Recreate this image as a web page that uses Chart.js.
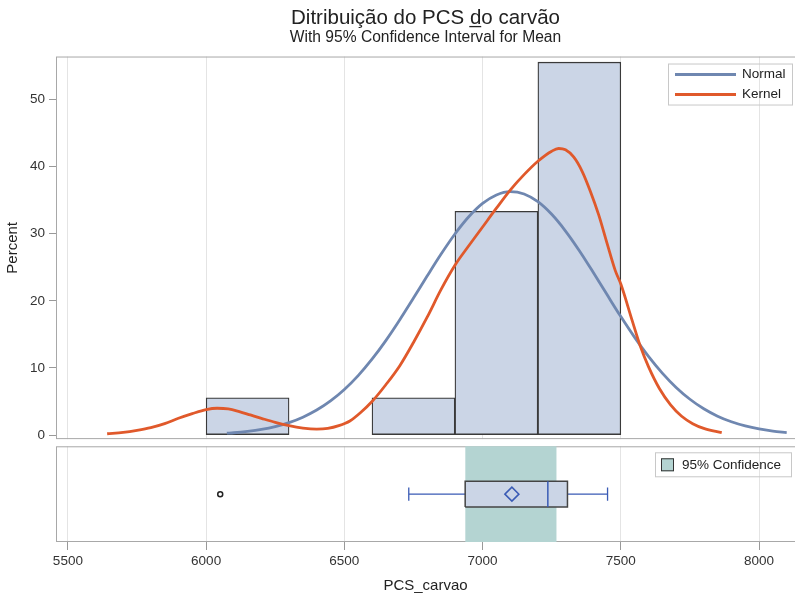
<!DOCTYPE html>
<html>
<head>
<meta charset="utf-8">
<script src="https://cdn.jsdelivr.net/npm/chart.js@4.4.1/dist/chart.umd.min.js"></script>
<style>
html, body { margin: 0; padding: 0; background: #fff; }
</style>
</head>
<body>
<canvas id="chart" width="795" height="596"></canvas>
<script>
// Histogram bins (percent of 18 observations)
const binStart = [6000, 6300, 6600, 6900, 7200];
const binWidth = 300;
const binPercent = [5.56, 0, 5.56, 33.33, 55.56];

// Fitted normal curve
const normalX = [6075, 6100, 6150, 6200, 6250, 6300, 6350, 6400, 6450, 6500, 6550, 6600, 6650, 6700,
    6750, 6800, 6850, 6900, 6950, 7000, 7050, 7100, 7150, 7200, 7250, 7300, 7350, 7400, 7450, 7500,
    7550, 7600, 7650, 7700, 7750, 7800, 7850, 7900, 7950, 8000, 8050, 8100];
const normalY = [0.28, 0.35, 0.56, 0.85, 1.27, 1.86, 2.67, 3.73, 5.09, 6.79, 8.86, 11.30, 14.08, 17.15,
    20.41, 23.73, 26.97, 29.96, 32.52, 34.51, 35.78, 36.27, 35.92, 34.77, 32.89, 30.40, 27.47, 24.25, 20.93, 17.65,
    14.55, 11.72, 9.23, 7.10, 5.34, 3.92, 2.82, 1.98, 1.36, 0.91, 0.60, 0.38];

// Kernel density curve
const kernelX = [5642, 5700, 5750, 5800, 5850, 5900, 5950, 6000, 6040, 6080, 6120, 6160, 6200, 6250,
    6300, 6350, 6400, 6440, 6480, 6520, 6560, 6600, 6650, 6700, 6750, 6800, 6850, 6900, 6950, 7000,
    7050, 7100, 7150, 7200, 7250, 7275, 7300, 7330, 7360, 7390, 7420, 7450, 7480, 7500, 7540, 7570,
    7600, 7640, 7680, 7720, 7760, 7800, 7865];
const kernelY = [0.2, 0.4, 0.7, 1.1, 1.7, 2.5, 3.2, 3.8, 4.0, 3.9, 3.5, 3.0, 2.5, 1.9,
    1.4, 1.05, 0.9, 1.0, 1.4, 2.1, 3.4, 5.0, 7.5, 10.3, 13.8, 17.6, 21.7, 25.3, 28.2, 31.0,
    33.8, 36.5, 38.8, 40.8, 42.3, 42.7, 42.5, 41.4, 39.3, 36.3, 32.8, 28.6, 24.5, 22.5, 17.2, 13.3,
    10.2, 6.9, 4.5, 2.8, 1.7, 1.0, 0.35];

// Box plot statistics
const whiskers = [6733, 7452];
const quartiles = [6937, 7236, 7307]; // Q1, median, Q3
const meanValue = [7106];
const outliers = [6051];
const meanCI = [6937, 7268];

const xTicks = [5500, 6000, 6500, 7000, 7500, 8000];

// Layout of the box panel (in yBox units)
const BOX_MID = 0.5;
const BOX_HALF = 0.135;
const CAP_HALF = 0.07;

const FONT = "'Liberation Sans', Arial, sans-serif";
Chart.defaults.font.family = FONT;
Chart.defaults.color = '#333';

const BLUE = '#3a5bb5';
const BAR_FILL = '#cbd5e6';
const BAND = '#b4d4d2';

const panelFrames = {
    id: 'panelFrames',
    beforeDatasetsDraw(chart) {
        const { ctx, chartArea } = chart;
        const yHist = chart.scales.y;
        const boxTop = chart.scales.yBox.getPixelForValue(1);
        const w = chartArea.right - chartArea.left;
        ctx.save();
        ctx.fillStyle = '#fff';
        ctx.fillRect(chartArea.left, yHist.bottom, w, boxTop - yHist.bottom);
        ctx.strokeStyle = '#a8a8a8';
        ctx.lineWidth = 1;
        ctx.strokeRect(chartArea.left + 0.5, yHist.top + 0.5, w, yHist.bottom - yHist.top - 1);
        ctx.strokeRect(chartArea.left + 0.5, boxTop + 0.5, w, chartArea.bottom - boxTop - 1);
        ctx.restore();
    }
};

const panelLegends = {
    id: 'panelLegends',
    afterDatasetsDraw(chart) {
        const { ctx, chartArea } = chart;
        const ds = chart.data.datasets;
        const top = chart.scales.y.top;
        const boxTop = chart.scales.yBox.getPixelForValue(1);
        ctx.save();
        ctx.font = '13.5px ' + FONT;
        ctx.textBaseline = 'middle';
        ctx.lineWidth = 1;

        // curves legend: Normal first, then Kernel
        let lx = chartArea.right - 127, ly = top + 7;
        ctx.strokeStyle = '#c8c8c8';
        ctx.strokeRect(lx + 0.5, ly + 0.5, 124, 41);
        ds.filter(d => d.legend === 'curve').reverse().forEach((d, i) => {
            const yy = ly + 11 + i * 20;
            ctx.strokeStyle = d.borderColor;
            ctx.lineWidth = 2.8;
            ctx.beginPath();
            ctx.moveTo(lx + 7, yy);
            ctx.lineTo(lx + 68, yy);
            ctx.stroke();
            ctx.fillStyle = '#222';
            ctx.fillText(d.label, lx + 74, yy);
        });

        // confidence legend
        lx = chartArea.right - 140;
        ly = boxTop + 6;
        ctx.lineWidth = 1;
        ctx.strokeStyle = '#c8c8c8';
        ctx.strokeRect(lx + 0.5, ly + 0.5, 136, 24);
        const band = ds.find(d => d.legend === 'band');
        ctx.fillStyle = band.backgroundColor;
        ctx.fillRect(lx + 6, ly + 6, 13, 13);
        ctx.strokeStyle = '#333';
        ctx.strokeRect(lx + 6.5, ly + 6.5, 12, 12);
        ctx.fillStyle = '#222';
        ctx.fillText(band.label, lx + 27, ly + 12.5);
        ctx.restore();
    }
};

const ctx = document.getElementById('chart').getContext('2d');
new Chart(ctx, {
    type: 'line',
    data: {
        datasets: [
            {
                label: 'Kernel', legend: 'curve',
                data: kernelX.map((x, i) => ({ x, y: kernelY[i] })),
                borderColor: '#e0592b', borderWidth: 2.8, pointRadius: 0,
                cubicInterpolationMode: 'monotone', yAxisID: 'y', order: 1
            },
            {
                label: 'Normal', legend: 'curve',
                data: normalX.map((x, i) => ({ x, y: normalY[i] })),
                borderColor: '#6f87b0', borderWidth: 2.8, pointRadius: 0,
                cubicInterpolationMode: 'monotone', yAxisID: 'y', order: 2
            },
            {
                type: 'bar', label: 'Histogram',
                data: binStart.map((s, i) => ({ x: s + binWidth / 2, y: binPercent[i] || null })),
                backgroundColor: BAR_FILL, borderColor: '#3a3a3a', borderWidth: 1.3,
                borderSkipped: false, barPercentage: 1, categoryPercentage: 1,
                yAxisID: 'y', order: 3
            },
            // box panel
            {
                label: 'Outlier',
                data: outliers.map(x => ({ x, y: BOX_MID })),
                showLine: false, pointStyle: 'circle', pointRadius: 2.5,
                pointBorderColor: '#222', pointBackgroundColor: '#fff', pointBorderWidth: 1.5,
                yAxisID: 'yBox', order: 1
            },
            {
                label: 'Mean',
                data: meanValue.map(x => ({ x, y: BOX_MID })),
                showLine: false, pointStyle: 'rectRot', pointRadius: 7,
                pointBorderColor: BLUE, pointBackgroundColor: 'rgba(0,0,0,0)', pointBorderWidth: 1.5,
                yAxisID: 'yBox', order: 1
            },
            {
                label: 'Median',
                data: [{ x: quartiles[1], y: BOX_MID - BOX_HALF }, { x: quartiles[1], y: BOX_MID + BOX_HALF }],
                borderColor: BLUE, borderWidth: 1.5, pointRadius: 0,
                yAxisID: 'yBox', order: 2
            },
            {
                label: 'Box edge',
                data: [
                    { x: quartiles[0], y: BOX_MID - BOX_HALF }, { x: quartiles[0], y: BOX_MID + BOX_HALF },
                    { x: quartiles[2], y: BOX_MID + BOX_HALF }, { x: quartiles[2], y: BOX_MID - BOX_HALF },
                    { x: quartiles[0], y: BOX_MID - BOX_HALF }
                ],
                borderColor: '#444', borderWidth: 1.5, pointRadius: 0,
                yAxisID: 'yBox', order: 3
            },
            {
                label: 'Box fill',
                data: [{ x: quartiles[0], y: BOX_MID + BOX_HALF }, { x: quartiles[2], y: BOX_MID + BOX_HALF }],
                borderWidth: 0, pointRadius: 0, backgroundColor: BAR_FILL,
                fill: { value: BOX_MID - BOX_HALF },
                yAxisID: 'yBox', order: 4
            },
            {
                label: 'Whiskers',
                data: [
                    { x: whiskers[0], y: BOX_MID - CAP_HALF }, { x: whiskers[0], y: BOX_MID + CAP_HALF },
                    { x: whiskers[0], y: BOX_MID }, { x: whiskers[1], y: BOX_MID },
                    { x: whiskers[1], y: BOX_MID + CAP_HALF }, { x: whiskers[1], y: BOX_MID - CAP_HALF }
                ],
                borderColor: BLUE, borderWidth: 1.3, pointRadius: 0,
                yAxisID: 'yBox', order: 5
            },
            {
                label: '95% Confidence', legend: 'band',
                data: meanCI.map(x => ({ x, y: 1 })),
                borderWidth: 0, pointRadius: 0, backgroundColor: BAND,
                fill: 'start', yAxisID: 'yBox', order: 6
            }
        ]
    },
    options: {
        responsive: false,
        animation: false,
        layout: { padding: 0, autoPadding: false },
        plugins: {
            legend: { display: false },
            tooltip: { enabled: false },
            title: {
                display: true,
                fullSize: false,
                text: 'Ditribuição do PCS d\u0332o carvão',
                color: '#222',
                font: { size: 20.5, weight: 'normal', lineHeight: 1.0 },
                padding: { top: 8, bottom: 0 }
            },
            subtitle: {
                display: true,
                fullSize: false,
                text: 'With 95% Confidence Interval for Mean',
                color: '#222',
                font: { size: 15.6, weight: 'normal', lineHeight: 1.2 },
                padding: { top: 0, bottom: 9.3 }
            }
        },
        scales: {
            x: {
                type: 'linear', min: 5457, max: 8130, offset: false,
                afterBuildTicks: s => { s.ticks = xTicks.map(v => ({ value: v })); },
                ticks: { font: { size: 13.5 }, color: '#333', padding: 3, maxRotation: 0, callback: v => String(v) },
                grid: { color: '#e4e4e4', tickColor: '#999', tickLength: 8, offset: false },
                border: { display: false },
                title: { display: true, text: 'PCS_carvao', color: '#222', font: { size: 15 }, padding: { top: 0, bottom: 1 } },
                afterFit: s => { s.height = 54; s.paddingLeft = 0; s.paddingRight = 0; }
            },
            yBox: {
                type: 'linear', position: 'left', stack: 'panels', stackWeight: 103,
                min: 0, max: 1.075,
                ticks: { display: false }, grid: { display: false }, border: { display: false },
                afterFit: s => { s.width = 56; }
            },
            y: {
                type: 'linear', position: 'left', stack: 'panels', stackWeight: 383,
                min: -0.6, max: 56.4,
                ticks: { stepSize: 10, includeBounds: false, font: { size: 13.5 }, color: '#333', padding: 4 },
                grid: { drawOnChartArea: false, tickLength: 7, tickColor: '#999' },
                border: { display: false },
                title: { display: true, text: 'Percent', color: '#222', font: { size: 15 }, padding: { top: 4, bottom: 0 } },
                afterFit: s => { s.width = 56; s.paddingTop = 0; s.paddingBottom = 0; }
            }
        }
    },
    plugins: [panelFrames, panelLegends]
});
</script>
</body>
</html>
